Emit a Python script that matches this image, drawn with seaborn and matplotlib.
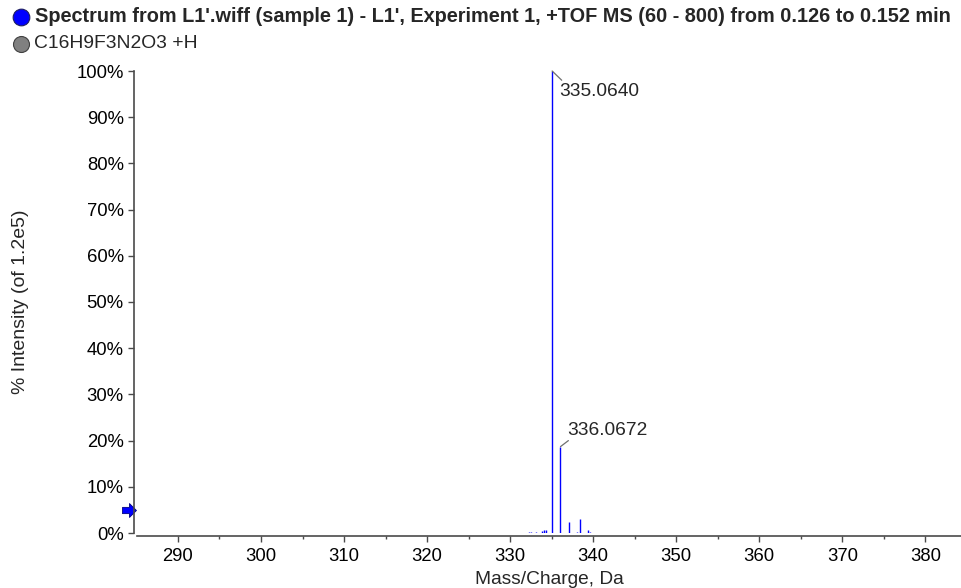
import matplotlib
matplotlib.use('Agg')
import matplotlib.pyplot as plt
from matplotlib.lines import Line2D
from matplotlib.ticker import MultipleLocator, PercentFormatter
import seaborn as sns

# ============== 数据 ==============
peak_mz = [332.24, 332.48, 333.16, 333.80, 334.04, 334.28,
           335.0640, 336.0672, 337.09, 338.07, 338.38, 339.38, 339.62]
peak_int = [0.2, 0.2, 0.3, 0.4, 0.6, 0.7,
            100.0, 18.7, 2.3, 0.3, 3.0, 0.7, 0.2]

labelled_mz = [335.0640, 336.0672]
labelled_int = [100.0, 18.7]
label_texts = ['335.0640', '336.0672']

x_ticks = [290, 300, 310, 320, 330, 340, 350, 360, 370, 380]
y_ticks = [0, 10, 20, 30, 40, 50, 60, 70, 80, 90, 100]

title = ("Spectrum from L1'.wiff (sample 1) - L1', Experiment 1, "
         "+TOF MS (60 - 800) from 0.126 to 0.152 min")
subtitle = 'C16H9F3N2O3 +H'
threshold = 5.0

# ============== 样式 ==============
sns.set_theme(style='ticks')
plt.rcParams['font.family'] = ['Liberation Sans', 'DejaVu Sans']
spine_col = '#4a4a4a'

fig = plt.figure(figsize=(9.62, 5.88), dpi=100)
ax = fig.add_axes([137 / 962, 1 - 533 / 588, 1 - 137 / 962 - 0.001, (533 - 71) / 588])

ax.vlines(peak_mz, 0, peak_int, colors='#0000ff', linewidth=1.0)

ax.set_xlim(285.07, 384.3)
ax.set_ylim(0, 100)
ax.set_xticks(x_ticks)
ax.xaxis.set_minor_locator(MultipleLocator(5))
ax.set_yticks(y_ticks)
ax.yaxis.set_major_formatter(PercentFormatter(decimals=0))

sns.despine(ax=ax)
for side in ['left', 'bottom']:
    ax.spines[side].set_position(('outward', 2))
    ax.spines[side].set_color(spine_col)
    ax.spines[side].set_linewidth(1.2)

ax.tick_params(axis='both', which='major', length=4, width=1.0, color=spine_col,
               labelsize=13.3, labelcolor='black')
ax.tick_params(axis='y', pad=3.5)
ax.tick_params(axis='x', pad=5)
ax.tick_params(axis='x', which='minor', length=2, width=1.0, color=spine_col)

ax.set_xlabel('Mass/Charge, Da', fontsize=13.8, labelpad=4)
ax.set_ylabel('% Intensity (of 1.2e5)', fontsize=14, labelpad=0)
ax.yaxis.set_label_coords(-(137 - 29) / 825, 0.5)

# 峰标注 + 引线
offsets = [(1.15, -2.0), (0.95, 1.3)]
text_offsets = [(0.79, -4.5), (0.86, 3.4)]
for mz, h, txt, (dx, dy), (tx, ty) in zip(labelled_mz, labelled_int, label_texts,
                                          offsets, text_offsets):
    ax.plot([mz, mz + dx], [h, h + dy], color='#707070', linewidth=0.9,
            clip_on=False)
    ax.text(mz + tx, h + ty, txt, fontsize=13.8, ha='left', va='center')

# 阈值箭头
arrow = [(-1, -0.45), (0, -0.45), (0, -1), (1, 0), (0, 1), (0, 0.45), (-1, 0.45), (-1, -0.45)]
ax.plot([284.15], [threshold], marker=arrow, markersize=10, color='#0000ff',
        markeredgecolor='#000080', markeredgewidth=0.6, clip_on=False, linestyle='none')

# 标题行
fig.add_artist(Line2D([21 / 962], [1 - 17 / 588], marker='o', markersize=12,
                      color='#0000ff', markeredgecolor='#202060', markeredgewidth=0.8,
                      transform=fig.transFigure))
fig.add_artist(Line2D([21 / 962], [1 - 44 / 588], marker='o', markersize=11.5,
                      color='#808080', markeredgecolor='#404040', markeredgewidth=0.8,
                      transform=fig.transFigure))
fig.text(35 / 962, 1 - 17 / 588, title, fontsize=14.3, fontweight='bold',
         ha='left', va='center')
fig.text(34 / 962, 1 - 44 / 588, subtitle, fontsize=13.9, ha='left', va='center')

fig.savefig('out.png', dpi=100)
